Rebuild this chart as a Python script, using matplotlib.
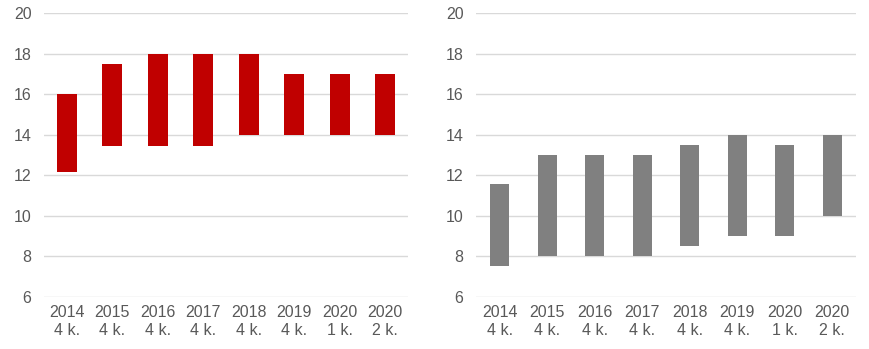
import numpy as np
import matplotlib
matplotlib.use('Agg')
import matplotlib.pyplot as plt

categories = ["2014\n4 k.", "2015\n4 k.", "2016\n4 k.", "2017\n4 k.", "2018\n4 k.",
              "2019\n4 k.", "2020\n1 k.", "2020\n2 k."]

# range bars: low / high for each period
left_low = [12.15, 13.45, 13.45, 13.45, 14.0, 14.0, 14.0, 14.0]
left_high = [16.0, 17.5, 18.0, 18.0, 18.0, 17.0, 17.0, 17.0]
right_low = [7.55, 8.0, 8.0, 8.0, 8.5, 9.0, 9.0, 10.0]
right_high = [11.6, 13.0, 13.0, 13.0, 13.5, 14.0, 13.5, 14.0]

plt.rcParams['font.family'] = ['Liberation Sans', 'DejaVu Sans']
TEXT = '#595959'
GRID = '#D9D9D9'

fig = plt.figure(figsize=(8.7, 3.49), dpi=100)
ax1 = fig.add_axes([44 / 870, 1 - 297 / 349, 364 / 870, 283.7 / 349])
ax2 = fig.add_axes([476 / 870, 1 - 297 / 349, 380 / 870, 283.7 / 349])


def draw_panel(ax, low, high, color, width):
    x = np.arange(len(categories))
    low = np.array(low)
    high = np.array(high)
    ax.bar(x, high - low, bottom=low, width=width, color=color, zorder=3)
    ax.set_xlim(-0.5, len(categories) - 0.5)
    ax.set_ylim(6, 20)
    ax.set_yticks(np.arange(6, 21, 2))
    ax.set_xticks(x)
    ax.set_xticklabels(categories, linespacing=1.2)
    ax.grid(axis='y', color=GRID, linewidth=1, zorder=0)
    for s in ax.spines.values():
        s.set_visible(False)
    ax.tick_params(length=0, labelsize=11.5, labelcolor=TEXT)
    ax.tick_params(axis='y', pad=9)
    ax.tick_params(axis='x', pad=6)


draw_panel(ax1, left_low, left_high, '#C00000', 0.44)
draw_panel(ax2, right_low, right_high, '#808080', 0.4)

fig.savefig('out.png', dpi=100)
